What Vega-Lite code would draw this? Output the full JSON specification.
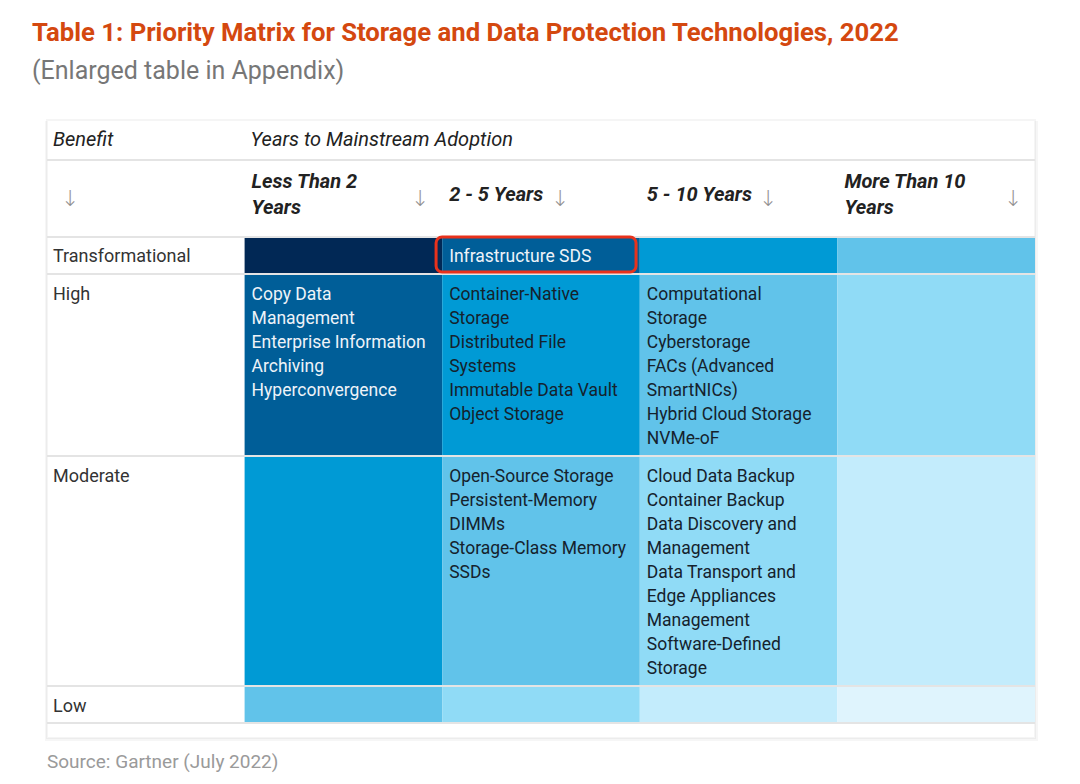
{
  "$schema": "https://vega.github.io/schema/vega-lite/v6.json",
  "width": 988,
  "height": 664,
  "autosize": {"type": "none"},
  "padding": {"left": 47, "top": 120, "right": 45, "bottom": 0},
  "background": "white",
  "config": {"view": {"stroke": null}},
  "title": {
    "text": "Table 1: Priority Matrix for Storage and Data Protection Technologies, 2022",
    "subtitle": "(Enlarged table in Appendix)",
    "anchor": "start",
    "frame": "group",
    "dx": -15,
    "offset": 34,
    "font": "Roboto",
    "fontSize": 25.7,
    "fontWeight": "bold",
    "color": "#d4480f",
    "subtitleFont": "Roboto",
    "subtitleFontSize": 25,
    "subtitleColor": "#777777",
    "subtitlePadding": 12
  },
  "datasets": {
    "card": [{"c0": 0, "c1": 5, "y0": 0, "y1": 618}],
    "cells": [
      {"benefit": "Transformational", "c0": 1, "c1": 2, "y0": 117, "y1": 154, "priority": 0},
      {"benefit": "Transformational", "c0": 2, "c1": 3, "y0": 117, "y1": 154, "priority": 1},
      {"benefit": "Transformational", "c0": 3, "c1": 4, "y0": 117, "y1": 154, "priority": 2},
      {"benefit": "Transformational", "c0": 4, "c1": 5, "y0": 117, "y1": 154, "priority": 3},
      {"benefit": "High", "c0": 1, "c1": 2, "y0": 154, "y1": 336, "priority": 1},
      {"benefit": "High", "c0": 2, "c1": 3, "y0": 154, "y1": 336, "priority": 2},
      {"benefit": "High", "c0": 3, "c1": 4, "y0": 154, "y1": 336, "priority": 3},
      {"benefit": "High", "c0": 4, "c1": 5, "y0": 154, "y1": 336, "priority": 4},
      {"benefit": "Moderate", "c0": 1, "c1": 2, "y0": 336, "y1": 566, "priority": 2},
      {"benefit": "Moderate", "c0": 2, "c1": 3, "y0": 336, "y1": 566, "priority": 3},
      {"benefit": "Moderate", "c0": 3, "c1": 4, "y0": 336, "y1": 566, "priority": 4},
      {"benefit": "Moderate", "c0": 4, "c1": 5, "y0": 336, "y1": 566, "priority": 5},
      {"benefit": "Low", "c0": 1, "c1": 2, "y0": 566, "y1": 603, "priority": 3},
      {"benefit": "Low", "c0": 2, "c1": 3, "y0": 566, "y1": 603, "priority": 4},
      {"benefit": "Low", "c0": 3, "c1": 4, "y0": 566, "y1": 603, "priority": 5},
      {"benefit": "Low", "c0": 4, "c1": 5, "y0": 566, "y1": 603, "priority": 6}
    ],
    "rules": [{"y": 40}, {"y": 117}, {"y": 154}, {"y": 336}, {"y": 566}, {"y": 603}],
    "highlight": [{"c0": 1.969, "c1": 2.981, "y0": 117, "y1": 152}],
    "head1": [
      {"x": 0, "y": 19, "text": "Benefit"},
      {"x": 1, "y": 19, "text": "Years to Mainstream Adoption"}
    ],
    "head2": [
      {"x": 1, "y": 61, "text": "Less Than 2"},
      {"x": 1, "y": 87, "text": "Years"},
      {"x": 2, "y": 74, "text": "2 - 5 Years"},
      {"x": 3, "y": 74, "text": "5 - 10 Years"},
      {"x": 4, "y": 61, "text": "More Than 10"},
      {"x": 4, "y": 87, "text": "Years"}
    ],
    "arrows": [
      {"x": 0.116, "y": 79, "text": "↓"},
      {"x": 1.888, "y": 79, "text": "↓"},
      {"x": 2.596, "y": 79, "text": "↓"},
      {"x": 3.649, "y": 79, "text": "↓"},
      {"x": 4.889, "y": 79, "text": "↓"}
    ],
    "labels": [
      {"x": 0, "y": 135, "text": "Transformational"},
      {"x": 0, "y": 173, "text": "High"},
      {"x": 0, "y": 355, "text": "Moderate"},
      {"x": 0, "y": 585, "text": "Low"}
    ],
    "items": [
      {"x": 2, "y": 135, "priority": 1, "text": "Infrastructure SDS"},
      {"x": 1, "y": 173, "priority": 1, "text": "Copy Data"},
      {"x": 1, "y": 197, "priority": 1, "text": "Management"},
      {"x": 1, "y": 221, "priority": 1, "text": "Enterprise Information"},
      {"x": 1, "y": 245, "priority": 1, "text": "Archiving"},
      {"x": 1, "y": 269, "priority": 1, "text": "Hyperconvergence"},
      {"x": 2, "y": 173, "priority": 2, "text": "Container-Native"},
      {"x": 2, "y": 197, "priority": 2, "text": "Storage"},
      {"x": 2, "y": 221, "priority": 2, "text": "Distributed File"},
      {"x": 2, "y": 245, "priority": 2, "text": "Systems"},
      {"x": 2, "y": 269, "priority": 2, "text": "Immutable Data Vault"},
      {"x": 2, "y": 293, "priority": 2, "text": "Object Storage"},
      {"x": 3, "y": 173, "priority": 3, "text": "Computational"},
      {"x": 3, "y": 197, "priority": 3, "text": "Storage"},
      {"x": 3, "y": 221, "priority": 3, "text": "Cyberstorage"},
      {"x": 3, "y": 245, "priority": 3, "text": "FACs (Advanced"},
      {"x": 3, "y": 269, "priority": 3, "text": "SmartNICs)"},
      {"x": 3, "y": 293, "priority": 3, "text": "Hybrid Cloud Storage"},
      {"x": 3, "y": 317, "priority": 3, "text": "NVMe-oF"},
      {"x": 2, "y": 355, "priority": 3, "text": "Open-Source Storage"},
      {"x": 2, "y": 379, "priority": 3, "text": "Persistent-Memory"},
      {"x": 2, "y": 403, "priority": 3, "text": "DIMMs"},
      {"x": 2, "y": 427, "priority": 3, "text": "Storage-Class Memory"},
      {"x": 2, "y": 451, "priority": 3, "text": "SSDs"},
      {"x": 3, "y": 355, "priority": 4, "text": "Cloud Data Backup"},
      {"x": 3, "y": 379, "priority": 4, "text": "Container Backup"},
      {"x": 3, "y": 403, "priority": 4, "text": "Data Discovery and"},
      {"x": 3, "y": 427, "priority": 4, "text": "Management"},
      {"x": 3, "y": 451, "priority": 4, "text": "Data Transport and"},
      {"x": 3, "y": 475, "priority": 4, "text": "Edge Appliances"},
      {"x": 3, "y": 499, "priority": 4, "text": "Management"},
      {"x": 3, "y": 523, "priority": 4, "text": "Software-Defined"},
      {"x": 3, "y": 547, "priority": 4, "text": "Storage"}
    ],
    "source": [{"x": 0, "y": 642, "text": "Source: Gartner (July 2022)"}]
  },
  "layer": [
    {
      "data": {"name": "card"},
      "mark": {"type": "rect", "fill": "#000000", "fillOpacity": 0.035, "yOffset": 4, "xOffset": 1, "stroke": "#000000", "strokeOpacity": 0.035, "strokeWidth": 6},
      "encoding": {
        "x": {"field": "c0", "type": "quantitative", "scale": {"domain": [0, 5], "nice": false, "zero": false}, "axis": null},
        "x2": {"field": "c1"},
        "y": {"field": "y0", "type": "quantitative", "scale": {"domain": [0, 664], "nice": false, "zero": false, "reverse": true}, "axis": null},
        "y2": {"field": "y1"}
      }
    },
    {
      "data": {"name": "card"},
      "mark": {"type": "rect", "fill": "white", "stroke": "#000000", "strokeOpacity": 0.04, "strokeWidth": 2},
      "encoding": {
        "x": {"field": "c0", "type": "quantitative"},
        "x2": {"field": "c1"},
        "y": {"field": "y0", "type": "quantitative"},
        "y2": {"field": "y1"}
      }
    },
    {
      "data": {"name": "cells"},
      "mark": {"type": "rect"},
      "encoding": {
        "x": {"field": "c0", "type": "quantitative"},
        "x2": {"field": "c1"},
        "y": {"field": "y0", "type": "quantitative"},
        "y2": {"field": "y1"},
        "color": {"field": "priority", "type": "ordinal", "legend": null,
          "scale": {"domain": [0, 1, 2, 3, 4, 5, 6], "range": ["#012855", "#005e98", "#009ad5", "#61c3ea", "#90dbf6", "#c3ecfc", "#dff4fd"]}}
      }
    },
    {
      "data": {"name": "rules"},
      "mark": {"type": "rule", "color": "#e4e4e4", "strokeWidth": 2},
      "encoding": {"y": {"field": "y", "type": "quantitative"}}
    },
    {
      "data": {"name": "highlight"},
      "mark": {"type": "rect", "fill": null, "fillOpacity": 0, "stroke": "#e8321c", "strokeWidth": 3, "cornerRadius": 6},
      "encoding": {
        "x": {"field": "c0", "type": "quantitative"},
        "x2": {"field": "c1"},
        "y": {"field": "y0", "type": "quantitative"},
        "y2": {"field": "y1"}
      }
    },
    {
      "data": {"name": "head1"},
      "mark": {"type": "text", "align": "left", "baseline": "middle", "dx": 6, "dy": 1, "font": "Roboto", "fontSize": 20, "fontStyle": "italic", "color": "#222222"},
      "encoding": {
        "x": {"field": "x", "type": "quantitative"},
        "y": {"field": "y", "type": "quantitative"},
        "text": {"field": "text"}
      }
    },
    {
      "data": {"name": "head2"},
      "mark": {"type": "text", "align": "left", "baseline": "middle", "dx": 7, "dy": 1, "font": "Roboto", "fontSize": 20, "fontStyle": "italic", "fontWeight": "bold", "color": "#222222"},
      "encoding": {
        "x": {"field": "x", "type": "quantitative"},
        "y": {"field": "y", "type": "quantitative"},
        "text": {"field": "text"}
      }
    },
    {
      "data": {"name": "arrows"},
      "mark": {"type": "text", "align": "center", "baseline": "middle", "font": "DejaVu Sans", "fontSize": 22, "fontWeight": 300, "color": "#909090"},
      "encoding": {
        "x": {"field": "x", "type": "quantitative"},
        "y": {"field": "y", "type": "quantitative"},
        "text": {"field": "text"}
      }
    },
    {
      "data": {"name": "labels"},
      "mark": {"type": "text", "align": "left", "baseline": "middle", "dx": 6, "dy": 1.5, "font": "Roboto", "fontSize": 18, "color": "#333333"},
      "encoding": {
        "x": {"field": "x", "type": "quantitative"},
        "y": {"field": "y", "type": "quantitative"},
        "text": {"field": "text"}
      }
    },
    {
      "data": {"name": "items"},
      "mark": {"type": "text", "align": "left", "baseline": "middle", "dx": 7, "dy": 1.5, "font": "Roboto", "fontSize": 17.5},
      "encoding": {
        "x": {"field": "x", "type": "quantitative"},
        "y": {"field": "y", "type": "quantitative"},
        "text": {"field": "text"},
        "color": {"condition": {"test": "datum.priority <= 1", "value": "#eef3f8"}, "value": "#15222d"}
      }
    },
    {
      "data": {"name": "source"},
      "mark": {"type": "text", "align": "left", "baseline": "middle", "font": "Roboto", "fontSize": 19, "color": "#9a9a9a"},
      "encoding": {
        "x": {"field": "x", "type": "quantitative"},
        "y": {"field": "y", "type": "quantitative"},
        "text": {"field": "text"}
      }
    }
  ]
}
